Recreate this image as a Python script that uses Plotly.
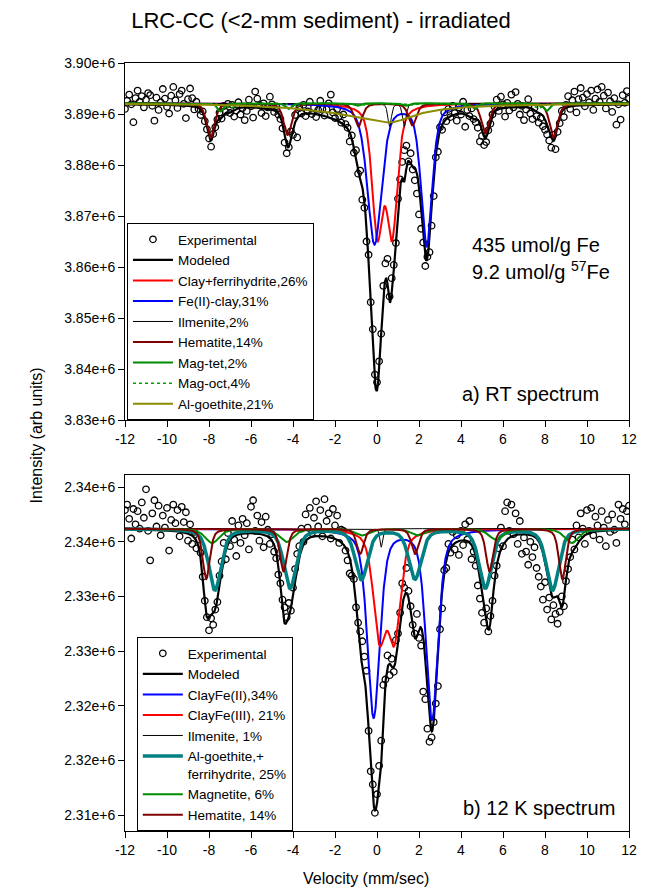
import numpy as np
import plotly.graph_objects as go

# ---------------- data ----------------
X_START, X_STEP = -12.0, 0.1          # velocity channels, mm/s
X_TICKS = [-12, -10, -8, -6, -4, -2, 0, 2, 4, 6, 8, 10, 12]

# Panel a) RT spectrum - experimental counts (thousands)
A_EXP_K = [
    3891.0, 3892.6, 3893.8, 3891.9, 3888.4, 3893.1, 3894.6, 3892.4, 3893.5, 3891.3,
    3892.8, 3894.1, 3893.7, 3891.6, 3888.7, 3893.2, 3890.8, 3892.3, 3894.9, 3893.0,
    3891.4, 3890.1, 3893.6, 3895.3, 3892.7, 3891.2, 3893.9, 3894.6, 3892.0, 3889.2,
    3892.9, 3895.0, 3893.1, 3890.9, 3892.4, 3891.0, 3889.8, 3890.5, 3888.6, 3887.0,
    3885.2, 3883.6, 3886.1, 3887.4, 3888.9, 3890.3, 3889.1, 3891.6, 3890.4, 3892.0,
    3890.2, 3891.8, 3889.5, 3890.7, 3892.3, 3889.9, 3891.2, 3888.8, 3890.6, 3892.8,
    3891.5, 3889.3, 3894.4, 3893.0, 3891.7, 3890.2, 3892.1, 3889.6, 3891.3, 3893.4,
    3891.9, 3890.4, 3891.5, 3889.9,
    3889.0, 3887.2, 3884.4, 3882.3, 3883.5, 3886.6, 3885.9, 3889.8, 3885.4, 3891.2, 3890.1,
    3891.8, 3889.6, 3890.5, 3892.4, 3890.0, 3891.3, 3889.4, 3890.8, 3892.6, 3891.0,
    3889.7, 3890.9, 3892.1, 3893.8, 3890.3, 3889.2, 3891.0, 3889.6, 3888.3, 3889.9, 3888.0,
    3887.3, 3884.6, 3885.8, 3882.4, 3882.9, 3878.3, 3878.9, 3873.2, 3871.6, 3865.0,
    3862.4, 3853.1, 3847.8, 3838.9, 3837.4, 3841.5, 3846.9, 3856.3, 3860.7, 3861.6,
    3854.2, 3857.8, 3860.4, 3864.7, 3873.4, 3877.2, 3880.6, 3882.9, 3883.8, 3880.7,
    3882.3, 3879.1, 3877.0, 3874.4, 3870.3, 3867.5, 3864.8, 3860.2, 3862.0, 3862.9,
    3868.1, 3873.9, 3881.5, 3882.6, 3887.4, 3886.9, 3890.3, 3888.6, 3891.0,
    3889.4, 3891.6, 3890.2, 3888.7, 3891.3, 3889.9, 3892.4, 3887.5, 3890.8, 3889.6,
    3891.1, 3889.0, 3888.4,
    3887.3, 3884.6, 3885.7, 3883.9, 3884.5, 3886.8, 3888.1, 3889.9, 3891.4,
    3892.8, 3890.6, 3893.4, 3891.9, 3889.5, 3892.2, 3890.7, 3893.8, 3891.3, 3894.3,
    3892.0, 3889.9, 3891.6, 3888.8, 3890.9, 3892.9, 3890.1, 3889.0, 3891.2, 3889.6, 3888.3,
    3889.2, 3887.6, 3886.9, 3886.0, 3884.8, 3883.4, 3885.9, 3883.1, 3886.5, 3888.2,
    3890.6, 3889.4, 3891.8,
    3893.5, 3891.0, 3892.7, 3894.4, 3890.3, 3892.9, 3895.1, 3893.2, 3891.5, 3893.9,
    3892.3, 3894.6, 3890.8, 3893.0, 3894.8, 3892.4, 3895.3, 3893.6, 3891.1, 3894.2,
    3892.5, 3890.4, 3893.1, 3887.9, 3891.9, 3888.9, 3893.7, 3892.2, 3894.5, 3893.0,
]

# Panel b) 12 K spectrum - experimental counts (thousands)
B_EXP_K = [
    2342.9, 2343.4, 2342.1, 2340.3, 2343.0, 2341.6, 2342.8, 2341.2, 2343.6, 2342.2,
    2344.8, 2341.0, 2338.3, 2342.6, 2343.8, 2341.4, 2343.3, 2340.6, 2342.4, 2341.3,
    2343.1, 2339.2, 2342.0, 2343.4, 2341.7, 2342.9, 2340.5, 2343.2, 2341.8, 2342.7,
    2340.1, 2341.6, 2339.8, 2340.9, 2339.4, 2340.2,
    2339.0, 2336.8, 2334.6, 2333.1, 2331.9, 2333.0, 2332.4, 2333.8, 2334.5, 2336.9,
    2338.2, 2339.9,
    2338.4, 2340.8, 2339.6, 2341.9, 2340.2, 2338.7, 2341.5, 2339.9, 2342.1, 2340.6,
    2341.7, 2339.3, 2343.2, 2343.8, 2341.0, 2342.4, 2340.1, 2341.8, 2339.5, 2342.3,
    2341.1, 2339.8, 2340.7, 2339.1,
    2338.5, 2337.0, 2336.2, 2334.7, 2334.0, 2333.1, 2334.4, 2333.7, 2335.8, 2337.5, 2338.9,
    2339.6, 2341.2, 2340.0, 2342.5, 2341.3, 2343.1, 2340.8, 2342.2, 2343.7, 2341.4,
    2342.9, 2340.5, 2343.9, 2341.9, 2342.6, 2340.3, 2343.0, 2341.5, 2342.4, 2339.9, 2341.1,
    2341.0, 2339.2, 2338.3, 2337.1, 2336.9, 2336.6, 2334.0, 2332.6, 2331.8, 2330.9,
    2329.5, 2328.2, 2322.7, 2319.0, 2317.8, 2315.2, 2316.9, 2319.5, 2321.8, 2326.9,
    2327.4, 2329.6, 2327.8, 2329.3, 2328.1, 2331.0, 2331.6, 2333.5, 2336.2, 2335.8,
    2337.6, 2335.5, 2334.1, 2332.4, 2331.6, 2333.4, 2331.2, 2330.5, 2326.3, 2325.6,
    2322.9, 2321.7, 2322.1, 2323.5, 2325.2, 2326.8, 2332.0, 2333.9, 2337.4, 2337.6,
    2339.8, 2339.0, 2340.9,
    2339.3, 2340.6, 2338.8, 2341.0, 2339.7, 2341.6, 2340.2, 2341.9, 2338.4, 2339.1, 2337.8,
    2336.0, 2334.8, 2333.5, 2332.6, 2333.9, 2331.8, 2333.2, 2334.6, 2336.9, 2337.8, 2339.4,
    2341.3, 2339.6, 2342.8, 2343.6, 2341.0, 2343.4, 2340.7, 2342.6, 2339.8, 2341.9,
    2338.9, 2340.4, 2339.1, 2337.9, 2340.0, 2338.6, 2339.5, 2337.6,
    2336.8, 2335.9, 2334.7, 2336.3, 2333.8, 2334.9, 2332.9, 2334.2, 2333.4, 2332.5,
    2333.6, 2335.0, 2334.1, 2336.4, 2337.5, 2338.6, 2340.2,
    2339.3, 2341.5, 2340.4, 2342.6, 2341.2, 2339.8, 2342.9, 2341.0, 2343.1, 2340.6,
    2342.3, 2341.5, 2340.2, 2342.8, 2341.3, 2339.6, 2342.0, 2340.9, 2342.5, 2341.1,
    2339.9, 2343.4, 2342.1, 2343.0, 2341.6, 2342.8, 2343.3,
]

# Fitted components: line positions (mm/s),
# depths (thousand counts) and widths (FWHM, mm/s)
A_BASE_K = 3892.1
A_CLAY_POS, A_CLAY_DEPTH, A_CLAY_FWHM = [0.02, 0.72], [24.8, 24.8], [0.6, 0.6]
A_FE2_POS, A_FE2_DEPTH, A_FE2_FWHM = [-0.12, 2.36], [27.5, 27.8], [0.8, 0.62]
A_ILM_POS, A_ILM_DEPTH, A_ILM_FWHM = [0.6, 1.3], [4.5, 4.5], [0.2, 0.2]
A_HEM_POS = [-7.92, -4.25, -0.89, 1.69, 5.16, 8.41]
A_HEM_DEPTH = [6.7, 6.2, 4.5, 4.3, 5.8, 6.7]
A_HEM_FWHM = [0.45] * 6
A_MAGT_POS = [-7.45, -4.2, -0.95, 1.37, 4.65, 8.08]
A_MAGT_DEPTH = [1.6, 1.1, 0.5, 0.5, 1.1, 1.5]
A_MAGT_FWHM = [0.35] * 6
A_MAGO_POS = [-7.0, -3.9, -0.7, 1.6, 4.4, 7.7]
A_MAGO_DEPTH = [1.0, 0.7, 0.35, 0.35, 0.7, 1.0]
A_MAGO_FWHM = [0.5] * 6
A_GOE_POS, A_GOE_DEPTH, A_GOE_FWHM = [-0.5, 0.7], [2.0, 2.0], [6.0, 2.4]

B_BASE_K = 2341.2
B_FE2_POS, B_FE2_DEPTH, B_FE2_FWHM = [-0.16, 2.62], [17.2, 17.4], [0.7, 0.68]
B_FE3_POS, B_FE3_DEPTH, B_FE3_FWHM = [0.12, 0.83], [9.5, 9.5], [0.7, 0.7]
B_ILM_POS, B_ILM_DEPTH, B_ILM_FWHM = [0.2], [1.7], [0.15]
B_GOE_POS = [-7.72, -4.14, -0.74, 1.81, 5.16, 8.36]
B_GOE_DEPTH = [5.6, 5.4, 4.6, 4.55, 5.4, 5.6]
B_GOE_FWHM = [0.7] * 6
B_MAG_POS = [-7.85, -4.3, -0.7, 1.95, 5.67, 9.27]
B_MAG_DEPTH = [1.3, 1.2, 0.6, 0.6, 1.0, 1.3]
B_MAG_FWHM = [0.8] * 6
B_HEM_POS = [-8.13, -4.45, -0.8, 1.81, 5.36, 8.83]
B_HEM_DEPTH = [4.6, 3.9, 2.3, 2.3, 3.9, 4.6]
B_HEM_FWHM = [0.4] * 6

A_YTICKS = [3.83e6, 3.84e6, 3.85e6, 3.86e6, 3.87e6, 3.88e6, 3.89e6, 3.90e6]
A_YTICKTEXT = ["3.83e+6", "3.84e+6", "3.85e+6", "3.86e+6", "3.87e+6",
               "3.88e+6", "3.89e+6", "3.90e+6"]
B_YTICKS = [2.315e6, 2.320e6, 2.325e6, 2.330e6, 2.335e6, 2.340e6, 2.345e6]
B_YTICKTEXT = ["2.31e+6", "2.32e+6", "2.32e+6", "2.33e+6", "2.33e+6",
               "2.34e+6", "2.34e+6"]

# ---------------- helpers ----------------
FONT = "Liberation Sans, Arial, sans-serif"
xc = np.linspace(-12, 12, 1601)


def line_shape(x, c, w, eta):
    lor = 1.0 / (1.0 + ((x - c) / (w / 2.0)) ** 2)
    gau = np.exp(-4.0 * np.log(2.0) * ((x - c) / w) ** 2)
    return eta * lor + (1.0 - eta) * gau


def absorption(pos, depth, fwhm, eta=0.5):
    a = np.zeros_like(xc)
    for c, d, w in zip(pos, depth, fwhm):
        a += d * line_shape(xc, c, w, eta)
    return a * 1000.0


A_BASE = A_BASE_K * 1000.0
B_BASE = B_BASE_K * 1000.0

a_comp = {
    "clay": absorption(A_CLAY_POS, A_CLAY_DEPTH, A_CLAY_FWHM),
    "fe2": absorption(A_FE2_POS, A_FE2_DEPTH, A_FE2_FWHM),
    "ilm": absorption(A_ILM_POS, A_ILM_DEPTH, A_ILM_FWHM),
    "hem": absorption(A_HEM_POS, A_HEM_DEPTH, A_HEM_FWHM),
    "magt": absorption(A_MAGT_POS, A_MAGT_DEPTH, A_MAGT_FWHM),
    "mago": absorption(A_MAGO_POS, A_MAGO_DEPTH, A_MAGO_FWHM),
    "goe": absorption(A_GOE_POS, A_GOE_DEPTH, A_GOE_FWHM, eta=1.0),
}
b_comp = {
    "fe2": absorption(B_FE2_POS, B_FE2_DEPTH, B_FE2_FWHM),
    "fe3": absorption(B_FE3_POS, B_FE3_DEPTH, B_FE3_FWHM),
    "ilm": absorption(B_ILM_POS, B_ILM_DEPTH, B_ILM_FWHM),
    "goe": absorption(B_GOE_POS, B_GOE_DEPTH, B_GOE_FWHM),
    "mag": absorption(B_MAG_POS, B_MAG_DEPTH, B_MAG_FWHM),
    "hem": absorption(B_HEM_POS, B_HEM_DEPTH, B_HEM_FWHM),
}

xa = X_START + X_STEP * np.arange(len(A_EXP_K))
xb = X_START + X_STEP * np.arange(len(B_EXP_K))
ya = np.array(A_EXP_K) * 1000.0
yb = np.array(B_EXP_K) * 1000.0

RED, BLUE, MAROON = "#FF0000", "#0000FF", "#800000"
GREEN, OLIVE, TEAL = "#008C00", "#8C8C00", "#008080"

fig = go.Figure()


def add_line(y, name, color, width, ax, leg, dash="solid"):
    fig.add_trace(go.Scatter(
        x=xc, y=y, mode="lines", name=name,
        line=dict(color=color, width=width, dash=dash),
        xaxis=ax[0], yaxis=ax[1], legend=leg, hoverinfo="skip"))


def add_exp(x, y, ax, leg):
    fig.add_trace(go.Scatter(
        x=x, y=y, mode="markers", name="Experimental",
        marker=dict(symbol="circle-open", size=6.5, color="black",
                    line=dict(width=1.3, color="black")),
        xaxis=ax[0], yaxis=ax[1], legend=leg))


# Panel a
AX_A = ("x", "y")
add_exp(xa, ya, AX_A, "legend")
add_line(A_BASE - sum(a_comp.values()), "Modeled", "black", 2.2, AX_A, "legend")
add_line(A_BASE - a_comp["clay"], "Clay+ferrihydrite,26%", RED, 2, AX_A, "legend")
add_line(A_BASE - a_comp["fe2"], "Fe(II)-clay,31%", BLUE, 2, AX_A, "legend")
add_line(A_BASE - a_comp["ilm"], "Ilmenite,2%", "black", 1, AX_A, "legend")
add_line(A_BASE - a_comp["hem"], "Hematite,14%", MAROON, 2, AX_A, "legend")
add_line(A_BASE - a_comp["magt"], "Mag-tet,2%", GREEN, 2, AX_A, "legend")
add_line(A_BASE - a_comp["mago"], "Mag-oct,4%", "#00A000", 1.5, AX_A, "legend", dash="dot")
add_line(A_BASE - a_comp["goe"], "Al-goethite,21%", OLIVE, 2, AX_A, "legend")

# Panel b
AX_B = ("x2", "y2")
add_exp(xb, yb, AX_B, "legend2")
add_line(B_BASE - sum(b_comp.values()), "Modeled", "black", 2.2, AX_B, "legend2")
add_line(B_BASE - b_comp["fe2"], "ClayFe(II),34%", BLUE, 2, AX_B, "legend2")
add_line(B_BASE - b_comp["fe3"], "ClayFe(III), 21%", RED, 2, AX_B, "legend2")
add_line(B_BASE - b_comp["ilm"], "Ilmenite, 1%", "black", 1, AX_B, "legend2")
add_line(B_BASE - b_comp["goe"], "Al-goethite,+<br>ferrihydrite, 25%", TEAL, 3.5, AX_B, "legend2")
add_line(B_BASE - b_comp["mag"], "Magnetite, 6%", GREEN, 2, AX_B, "legend2")
add_line(B_BASE - b_comp["hem"], "Hematite, 14%", MAROON, 2, AX_B, "legend2")

axis_common = dict(showline=True, mirror=True, linecolor="black", linewidth=1,
                   ticks="outside", ticklen=6, tickwidth=1, tickcolor="black",
                   showgrid=False, zeroline=False,
                   tickfont=dict(family=FONT, size=14, color="black"))

W, H = 647, 890
ML, MR, MT, MB = 125, 10, 63, 59
PW, PH = W - ML - MR, H - MT - MB


def px(xp):
    return (xp - ML) / PW


def py(yp):
    return (H - MB - yp) / PH


legend_common = dict(bordercolor="black", borderwidth=1, bgcolor="white",
                     font=dict(family=FONT, size=13.5, color="black"),
                     tracegroupgap=0, itemwidth=40, xanchor="left",
                     yanchor="bottom", traceorder="normal")

fig.update_layout(
    width=W, height=H, margin=dict(l=ML, r=MR, t=MT, b=MB),
    paper_bgcolor="white", plot_bgcolor="white",
    font=dict(family=FONT, color="black"),
    title=dict(text="LRC-CC (&lt;2-mm sediment) - irradiated",
               x=321 / W, y=1 - 20 / H, xanchor="center", yanchor="middle",
               xref="paper" if False else "container", yref="container",
               font=dict(family=FONT, size=22, color="black")),
    xaxis=dict(domain=[0, 1], anchor="y", range=[-12, 12],
               tickvals=X_TICKS, ticktext=[str(t) for t in X_TICKS], **axis_common),
    yaxis=dict(domain=[py(420), 1], anchor="x", range=[3.83e6, 3.90e6],
               tickvals=A_YTICKS, ticktext=A_YTICKTEXT, **axis_common),
    xaxis2=dict(domain=[0, 1], anchor="y2", range=[-12, 12],
                tickvals=X_TICKS, ticktext=[str(t) for t in X_TICKS], **axis_common),
    yaxis2=dict(domain=[0, py(475)], anchor="x2", range=[2.31354e6, 2.34611e6],
                tickvals=B_YTICKS, ticktext=B_YTICKTEXT, **axis_common),
    legend=dict(x=px(127), y=py(420), **legend_common),
    legend2=dict(x=px(137), y=0, valign="top", **legend_common),
    showlegend=True,
)

ann_font = dict(family=FONT, size=20, color="black")
annotations = [
    dict(text="435 umol/g Fe", x=px(475), y=py(245), xanchor="left", yanchor="middle"),
    dict(text="9.2 umol/g <sup>57</sup>Fe", x=px(475), y=py(270), xanchor="left", yanchor="middle"),
    dict(text="a) RT spectrum", x=px(465), y=py(394), xanchor="left", yanchor="middle"),
    dict(text="b) 12 K spectrum", x=px(466), y=py(808), xanchor="left", yanchor="middle"),
]
for a in annotations:
    fig.add_annotation(xref="paper", yref="paper", showarrow=False, font=ann_font, **a)

fig.add_annotation(text="Intensity (arb units)", xref="paper", yref="paper",
                   x=px(35), y=py(435), textangle=-90, showarrow=False,
                   xanchor="center", yanchor="middle",
                   font=dict(family=FONT, size=16, color="black"))
fig.add_annotation(text="Velocity (mm/sec)", xref="paper", yref="paper",
                   x=px(370), y=py(878), showarrow=False,
                   xanchor="center", yanchor="middle",
                   font=dict(family=FONT, size=16, color="black"))

fig.write_html("out.html")
